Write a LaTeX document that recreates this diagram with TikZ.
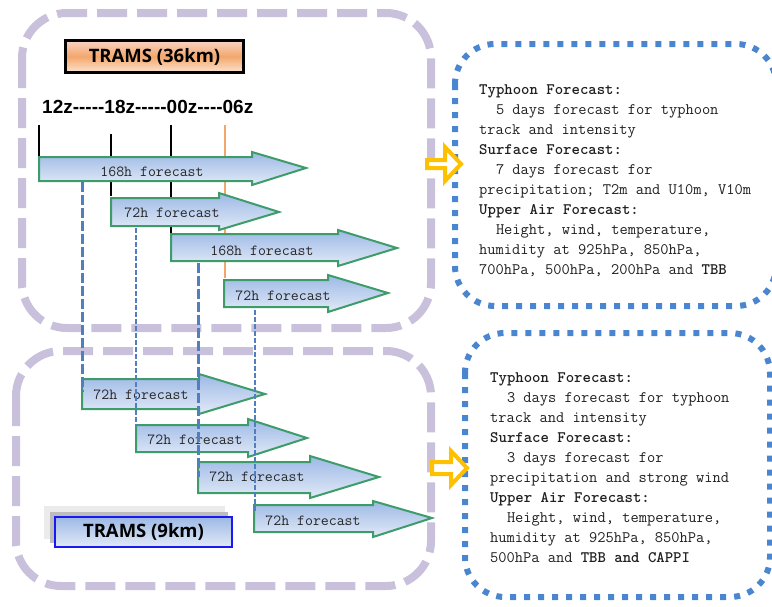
\documentclass[tikz,border=0pt]{standalone}
\usepackage{fontspec}
\newfontfamily\boxfont{Open Sans}
\newfontfamily\timefont{Liberation Sans}
\definecolor{lav}{HTML}{C9C0DC}
\definecolor{dotblue}{HTML}{4A86D0}
\definecolor{agreen}{HTML}{3E9C6B}
\definecolor{atop}{HTML}{9DB9E6}
\definecolor{abot}{HTML}{E2EAF7}
\definecolor{gold}{HTML}{FFC000}
\definecolor{oline}{HTML}{F2A66A}
\definecolor{dblue}{HTML}{4F7FBE}
\definecolor{ptop}{HTML}{F9D3C4}
\definecolor{pmid}{HTML}{F3A76B}
\definecolor{pbot}{HTML}{FCE4D2}
\definecolor{bborder}{HTML}{1A1AF0}
\newcommand\ind{\hspace*{1.05em}}
\newcommand\fcarrow[8]{% x0, xhead, xtip, ytop, ybot, headtop, headbot, tipy
  \draw[fcshape] (#1,#4) -- (#2,#4) -- (#2,#6) -- (#3,#8) -- (#2,#7) -- (#2,#5) -- (#1,#5) -- cycle;}
\begin{document}
\begin{tikzpicture}[x=1pt,y=-1pt,
  lavbox/.style={draw=lav,line width=8pt,dash pattern=on 30pt off 10pt,rounded corners=45pt},
  dotbox/.style={draw=dotblue,line width=6pt,dash pattern=on 6pt off 8pt,rounded corners=40pt},
  fcshape/.style={draw=agreen,line width=2pt,top color=atop,bottom color=abot,line join=miter},
  fclabel/.style={font=\ttfamily\fontsize{15.4}{16}\selectfont,text=black!85,inner sep=0pt},
  infotext/.style={font=\ttfamily\fontsize{16}{20}\selectfont,text=black!88,align=left,inner sep=0pt,anchor=north west},
  thicktick/.style={line width=2.5pt,black},
  thintick/.style={line width=1.2pt,black},
  dashthick/.style={draw=dblue,line width=3pt,dash pattern=on 10pt off 3pt},
  dashthin/.style={draw=dblue,line width=1.2pt,dash pattern=on 5pt off 2pt},
  goldarrow/.style={draw=gold,line width=4pt,fill=white,line join=miter},
]
\useasboundingbox (0,0) rectangle (772,606);
% lavender dashed frames
\draw[lavbox] (22,13) rectangle (431,328);
\draw[lavbox] (16,351) rectangle (431,586);
% blue dotted frames
\draw[dotbox] (455,44) rectangle (776,306);
\draw[dotbox] (465,333) rectangle (770,597);
% title boxes
\node[draw=black,line width=2.5pt,minimum width=178pt,minimum height=32pt,inner sep=0pt,
  top color=ptop,bottom color=pbot,middle color=pmid,
  font=\boxfont\bfseries\fontsize{18.5}{20}\selectfont] (t36) at (154.5,56.5) {TRAMS (36km)};
\fill[black!8] (44,506) rectangle (225,539);
\fill[black!26] (50,512) rectangle (228,543);
\node[draw=bborder,line width=2pt,minimum width=177pt,minimum height=30pt,inner sep=0pt,
  top color=atop,bottom color=abot,
  font=\boxfont\bfseries\fontsize{18.5}{20}\selectfont] (t9) at (143.5,532) {TRAMS (9km)};
% time axis
\node[font=\timefont\bfseries\fontsize{19}{20}\selectfont,anchor=west,inner sep=0pt] (axis) at (42,107) {12z-----18z-----00z----06z};
\coordinate (k1a) at (39,125); \coordinate (k1b) at (39,168);
\coordinate (k2a) at (111,134); \coordinate (k2b) at (111,196);
\coordinate (k3a) at (171,125); \coordinate (k3b) at (171,248);
\coordinate (k4a) at (225,125); \coordinate (k4b) at (225,278);
\draw[thicktick] (k1a) -- (k1b);
\draw[thintick] (k2a) -- (k2b);
\draw[thicktick] (k3a) -- (k3b);
\draw[oline,line width=1.2pt] (k4a) -- (k4b);
% forecast arrows (36km)
\fcarrow{39}{252}{306}{157}{181}{152}{185}{168}
\fcarrow{111}{219}{279}{198}{226}{193}{230}{212}
\fcarrow{171}{338}{397}{234}{261}{230}{266}{248}
\fcarrow{224}{328}{388}{280}{307}{275}{312}{293}
% forecast arrows (9km)
\fcarrow{82}{199}{265}{379}{409}{374}{414}{394}
\fcarrow{136}{248}{307}{425}{452}{419}{457}{438}
\fcarrow{198}{310}{379}{462}{493}{456}{498}{477}
\fcarrow{254}{373}{432}{505}{532}{501}{537}{518}
\node[fclabel] (f1) at (152,172) {168h forecast};
\node[fclabel] (f2) at (172,213) {72h forecast};
\node[fclabel] (f3) at (262,251) {168h forecast};
\node[fclabel] (f4) at (283,296) {72h forecast};
\node[fclabel] (f5) at (141,395) {72h forecast};
\node[fclabel] (f6) at (195,440) {72h forecast};
\node[fclabel] (f7) at (257,477) {72h forecast};
\node[fclabel] (f8) at (313,521) {72h forecast};
% dashed links
\coordinate (d1a) at (82,182); \coordinate (d1b) at (82,392);
\coordinate (d2a) at (136,228); \coordinate (d2b) at (136,425);
\coordinate (d3a) at (198,263); \coordinate (d3b) at (198,477);
\coordinate (d4a) at (255,310); \coordinate (d4b) at (255,513);
\draw[dashthick] (d1a) -- (d1b);
\draw[dashthin] (d2a) -- (d2b);
\draw[dashthick] (d3a) -- (d3b);
\draw[dashthin] (d4a) -- (d4b);
% gold arrows
\draw[goldarrow] (427,160) -- (445,160) -- (445,147) -- (461,164) -- (445,181) -- (445,168) -- (427,168) -- cycle;
\draw[goldarrow] (432,462) -- (451,462) -- (451,451) -- (467,468) -- (451,485) -- (451,474) -- (432,474) -- cycle;
% info texts
\node[infotext] (info1) at (479,85) {\textbf{Typhoon Forecast:}\\
\ind 5 days forecast for typhoon\\
track and intensity\\
\textbf{Surface Forecast:}\\
\ind 7 days forecast for\\
precipitation; T2m and U10m, V10m\\
\textbf{Upper Air Forecast:}\\
\ind Height, wind, temperature,\\
humidity at 925hPa, 850hPa,\\
700hPa, 500hPa, 200hPa and \textbf{TBB}};
\node[infotext] (info2) at (490,373) {\textbf{Typhoon Forecast:}\\
\ind 3 days forecast for typhoon\\
track and intensity\\
\textbf{Surface Forecast:}\\
\ind 3 days forecast for\\
precipitation and strong wind\\
\textbf{Upper Air Forecast:}\\
\ind Height, wind, temperature,\\
humidity at 925hPa, 850hPa,\\
500hPa and \textbf{TBB and CAPPI}};
\end{tikzpicture}
\end{document}
